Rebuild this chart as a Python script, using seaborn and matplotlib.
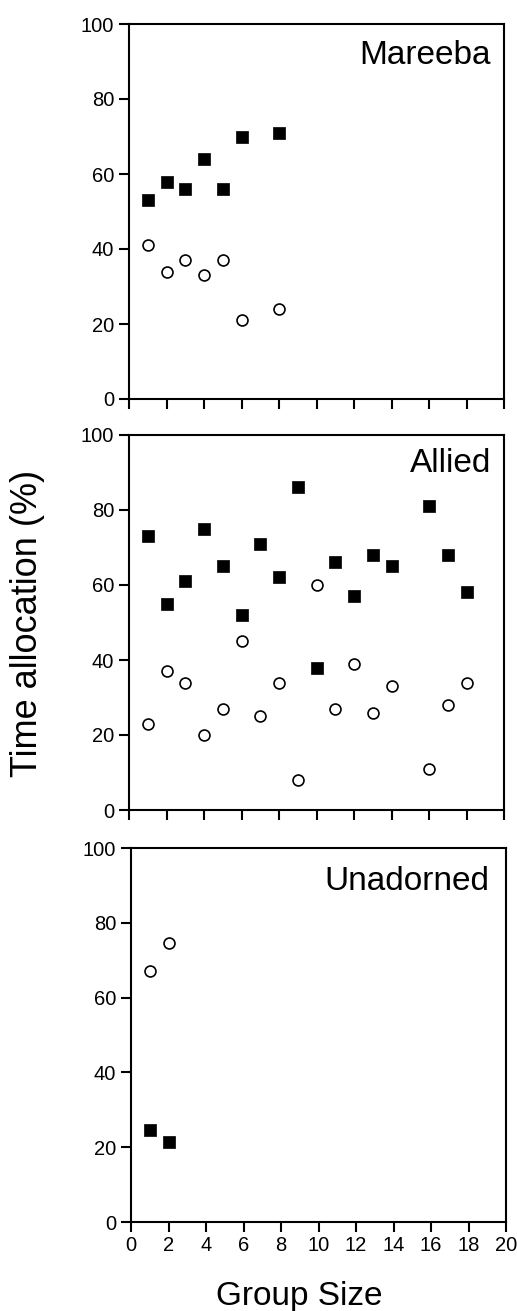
import matplotlib
matplotlib.use("Agg")
import matplotlib.pyplot as plt
import seaborn as sns
import pandas as pd

# ── Data ──────────────────────────────────────────────────
mareeba_x      = [1, 2, 3, 4, 5, 6, 8]
mareeba_filled = [53, 58, 56, 64, 56, 70, 71]
mareeba_open   = [41, 34, 37, 33, 37, 21, 24]

allied_x      = [1, 2, 3, 4, 5, 6, 7, 8, 9, 10, 11, 12, 13, 14, 16, 17, 18]
allied_filled = [73, 55, 61, 75, 65, 52, 71, 62, 86, 38, 66, 57, 68, 65, 81, 68, 58]
allied_open   = [23, 37, 34, 20, 27, 45, 25, 34, 8, 60, 27, 39, 26, 33, 11, 28, 34]

unadorned_x      = [1, 2]
unadorned_filled = [24.5, 21.5]
unadorned_open   = [67, 74.5]

panel_names = ["Mareeba", "Allied", "Unadorned"]
panels = [
    (mareeba_x, mareeba_filled, mareeba_open),
    (allied_x, allied_filled, allied_open),
    (unadorned_x, unadorned_filled, unadorned_open),
]

x_ticks = list(range(0, 21, 2))
y_ticks = [0, 20, 40, 60, 80, 100]

sns.set_theme(style="ticks")
plt.rcParams["font.family"] = ["Liberation Sans", "DejaVu Sans"]
plt.rcParams["text.color"] = "black"
plt.rcParams["xtick.color"] = "black"
plt.rcParams["ytick.color"] = "black"
plt.rcParams["axes.labelcolor"] = "black"

W, H = 517, 1311
fig = plt.figure(figsize=(W / 100, H / 100), dpi=100)

# pixel boxes: left, top, right, bottom
boxes = [(129, 24, 504, 399), (129, 435, 504, 810), (131, 848, 506, 1222)]
# panel name anchor (axes fraction, right/top)
name_pos = [(0.966, 0.958), (0.966, 0.966), (0.956, 0.952)]

axes = []
for name, (xs, filled, opened), (l, t, r, b), (nx, ny) in zip(panel_names, panels, boxes, name_pos):
    ax = fig.add_axes([l / W, 1 - b / H, (r - l) / W, (b - t) / H])
    df = pd.DataFrame({"x": xs, "filled": filled, "open": opened})
    sns.scatterplot(data=df, x="x", y="open", ax=ax, marker="o", s=62,
                    facecolor="white", edgecolor="black", linewidth=1.2,
                    zorder=3)
    sns.scatterplot(data=df, x="x", y="filled", ax=ax, marker="s", s=81,
                    color="black", edgecolor="black", linewidth=0.5,
                    zorder=3)
    ax.set_xlim(0, 20); ax.set_ylim(0, 100)
    ax.set_xticks(x_ticks); ax.set_yticks(y_ticks)
    ax.set_xlabel(""); ax.set_ylabel("")
    for sp in ax.spines.values():
        sp.set_visible(True); sp.set_linewidth(1.5); sp.set_color("black")
    ax.tick_params(axis="both", direction="out", length=7.2, width=1.5,
                   color="black", labelcolor="black", labelsize=14.5, pad=3)
    ax.tick_params(axis="y", pad=3.5)
    ax.text(nx, ny, name, transform=ax.transAxes, ha="right", va="top",
            fontsize=24, color="black")
    axes.append(ax)

axes[0].tick_params(axis="x", labelbottom=False)
axes[1].tick_params(axis="x", labelbottom=False)

fig.text(299.5 / W, 1 - 1305 / H, "Group Size", ha="center", va="baseline",
         fontsize=24, color="black")
fig.text(27.5 / W, 1 - 623 / H, "Time allocation (%)", rotation=90,
         ha="center", va="center", fontsize=26, color="black")

fig.savefig("out.png", dpi=100)
